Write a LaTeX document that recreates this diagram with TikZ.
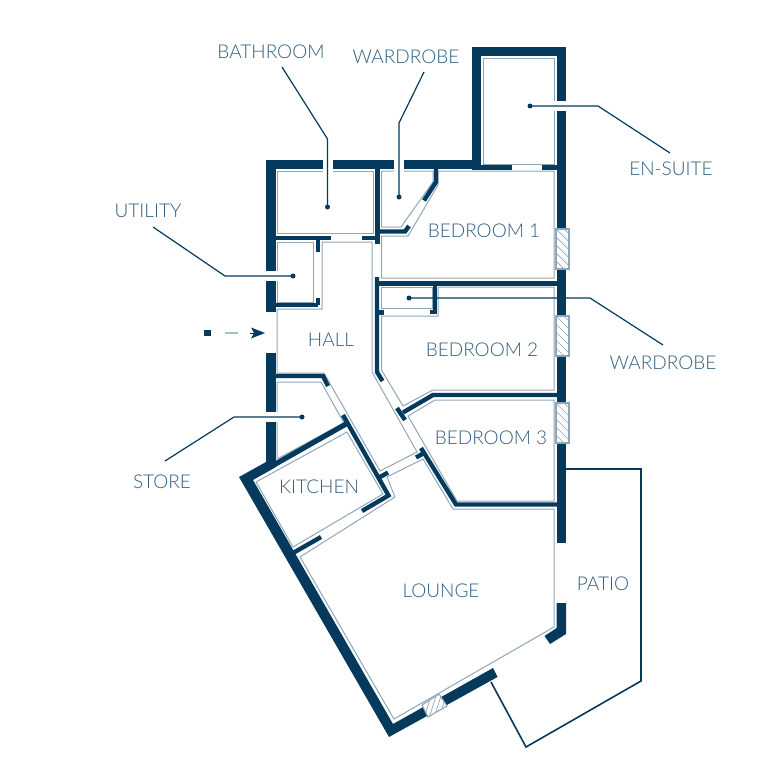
\documentclass[tikz,border=0pt]{standalone}
\usepackage{fontspec}
\setmainfont{Lato}[UprightFont=* Light]
\definecolor{wall}{HTML}{053A5C}
\definecolor{thin}{HTML}{8FA6B7}
\definecolor{lbl}{HTML}{2F5E7E}
\definecolor{dashc}{HTML}{A9BDCB}
\tikzset{
  wl/.style={fill=wall,draw=none},
  ws/.style={draw=wall,line width=4.4pt,line cap=butt,line join=miter},
  room/.style={draw=thin,line width=1pt,line join=miter},
  rtext/.style={text=lbl,font=\fontsize{19}{22}\selectfont,inner sep=0pt},
  halo/.style={draw=white,line width=10pt},
  conn/.style={draw=wall,line width=1.2pt},
  dot/.style={circle,fill=wall,inner sep=0pt,minimum size=5pt},
  win/.style={draw=thin,line width=1.1pt,fill=white},
  hatch/.style={draw=thin,line width=.7pt},
}
\begin{document}
\begin{tikzpicture}[x=1pt,y=-1pt]
\useasboundingbox (0,0) rectangle (768,768);
% rooms
\draw[room] (483,59) rectangle (554,164);
\draw[room] (277,171) rectangle (373,233);
\draw[room] (381.5,171) -- (433,171) -- (433,182) -- (401,227) -- (381.5,227) -- cycle;
\draw[room] (438,171) -- (554,171) -- (554,278) -- (381.5,278) -- (381.5,236) -- (408,236) -- (438,185) -- cycle;
\draw[room] (277,242) rectangle (313,302);
\draw[room] (277,309) -- (322,309) -- (322,242) -- (372,242) -- (372,372) -- (417,452) -- (380,471) -- (324,373) -- (277,373) -- cycle;
\draw[room] (277,382) -- (321,382) -- (344,423) -- (277,459) -- cycle;
\draw[room] (256,482) -- (347,432) -- (383,494) -- (293,547) -- cycle;
\draw[room] (387,477) -- (423,459) -- (453,509) -- (554,509) -- (554,627) -- (394,719) -- (300,557) -- (395,497) -- cycle;
\draw[room] (408,416) -- (435,400) -- (554,400) -- (554,501) -- (457,501) -- cycle;
\draw[room] (381.5,316) -- (438,316) -- (438,287) -- (554,287) -- (554,390) -- (433,390) -- (403,406) -- (381.5,370) -- cycle;
\draw[room] (381.5,287) rectangle (432,308);
% outer walls
\fill[wl] (266,160) rectangle (472,169);
\fill[wl] (472,47) rectangle (566,56);
\fill[wl] (472,47) rectangle (481,169);
\fill[wl] (472,165) rectangle (512,169.5);
\fill[wl] (542,165) rectangle (557,169.5);
\fill[wl] (266,160) rectangle (276,312);
\fill[wl] (266,353) rectangle (276,467);
\fill[wl] (556.5,47) rectangle (566,543);
\fill[wl] (556.5,603) -- (566,603) -- (566,634) -- (550,644) -- (544.5,636) -- (556.5,628) -- cycle;
\fill[wl] (493,668) -- (497.5,677) -- (389,737) -- (239,477) -- (266,462) -- (276,462) -- (276,467) -- (253,480) -- (393,724) -- cycle;
% inner walls
\draw[ws] (276,238) -- (331,238);
\draw[ws] (318,238) -- (318,252);
\draw[ws] (362,238) -- (377,238);
\draw[ws] (377.5,169) -- (377.5,244);
\draw[ws] (377.5,231.5) -- (405,231.5) -- (409,226);
\draw[ws] (436,169) -- (436,182) -- (424,200.5);
\draw[ws] (276,305) -- (318,305);
\draw[ws] (318,305) -- (318,298);
\draw[ws] (377,277) -- (377,372) -- (382.5,381);
\draw[ws] (375,283.5) -- (557,283.5);
\draw[ws] (435,285) -- (435,312.2) -- (430,312.2);
\draw[ws] (379,312.5) -- (384,312.5);
\draw[ws] (557,395) -- (433,395) -- (403,412.5);
\draw[ws] (397,408) -- (405,420);
\draw[ws] (421,448) -- (456,504.5) -- (557,504.5);
\draw[ws] (416,457.5) -- (424,453);
\draw[ws] (380,477) -- (388,472.5);
\draw[ws] (343,415) -- (388.5,495.5) -- (362,511);
\draw[ws] (276,376) -- (323,376) -- (328,386);
\draw[draw=wall,line width=5.2pt] (275,464.3) -- (346,424);
\draw[ws] (321,537) -- (293,553);
% windows
\foreach \y in {229,316,403}{
  \draw[win] (556,\y) rectangle (569,\y+40);
  \begin{scope}
    \clip (556,\y) rectangle (569,\y+40);
    \foreach \d in {-8,0,...,40} \draw[hatch] (556,\y+\d) -- (569,\y+\d+13);
  \end{scope}
}
\draw[win] (422,705) -- (439,694) -- (447,706) -- (428,717) -- cycle;
\begin{scope}
  \clip (422,705) -- (439,694) -- (447,706) -- (428,717) -- cycle;
  \foreach \d in {0,5,...,25} \draw[hatch] (424+\d,718) -- (431+\d,696);
\end{scope}
% patio
\draw[draw=wall,line width=1.6pt] (566,469) -- (641,469) -- (641,681) -- (526,747) -- (491,682);
% connectors
\node[dot] (dBath) at (327.5,207) {};
\coordinate (kBath) at (327.5,139); \coordinate (eBath) at (282,67);
\draw[halo] (dBath) -- (kBath);
\draw[conn] (dBath.center) -- (kBath) -- (eBath);
\node[dot] (dWard) at (399,197) {};
\coordinate (kWard) at (399,123); \coordinate (eWard) at (424,72);
\draw[halo] (dWard) -- (kWard);
\draw[conn] (dWard.center) -- (kWard) -- (eWard);
\node[dot] (dEns) at (530,106) {};
\coordinate (kEns) at (598,106); \coordinate (eEns) at (670,153);
\draw[halo] (dEns) -- (kEns);
\draw[conn] (dEns.center) -- (kEns) -- (eEns);
\node[dot] (dUtil) at (293,276) {};
\coordinate (kUtil) at (225,276); \coordinate (eUtil) at (153,227);
\draw[halo] (dUtil) -- (kUtil);
\draw[conn] (dUtil.center) -- (kUtil) -- (eUtil);
\node[dot] (dWard2) at (409,298) {};
\coordinate (kWard2) at (590,298); \coordinate (eWard2) at (663,345);
\draw[conn] (dWard2.center) -- (kWard2) -- (eWard2);
\node[dot] (dStore) at (302,417) {};
\coordinate (kStore) at (234,417); \coordinate (eStore) at (165,461);
\draw[halo] (dStore) -- (kStore);
\draw[conn] (dStore.center) -- (kStore) -- (eStore);
% entry arrow
\fill[wall] (204,330) rectangle (211,336);
\draw[draw=dashc,line width=1.6pt] (225,333) -- (238,333);
\draw[draw=wall,line width=.8pt] (250,333) -- (255,333);
\fill[wall] (265,333) -- (251,327.5) -- (254,333) -- (251,338.5) -- cycle;
% labels
\node[rtext] (tBath) at (271,52) {BATHROOM};
\node[rtext] (tWard) at (406,57) {WARDROBE};
\node[rtext] (tEns) at (671,169) {EN-SUITE};
\node[rtext] (tUtil) at (148,211) {UTILITY};
\node[rtext] (tWard2) at (663,363) {WARDROBE};
\node[rtext] (tStore) at (162,482) {STORE};
\node[rtext] (tHall) at (331,340) {HALL};
\node[rtext] (tB1) at (484,231) {BEDROOM 1};
\node[rtext] (tB2) at (482,350) {BEDROOM 2};
\node[rtext] (tB3) at (491,438) {BEDROOM 3};
\node[rtext] (tKit) at (319,487) {KITCHEN};
\node[rtext] (tLou) at (441,591) {LOUNGE};
\node[rtext] (tPat) at (603,584) {PATIO};
\end{tikzpicture}
\end{document}
